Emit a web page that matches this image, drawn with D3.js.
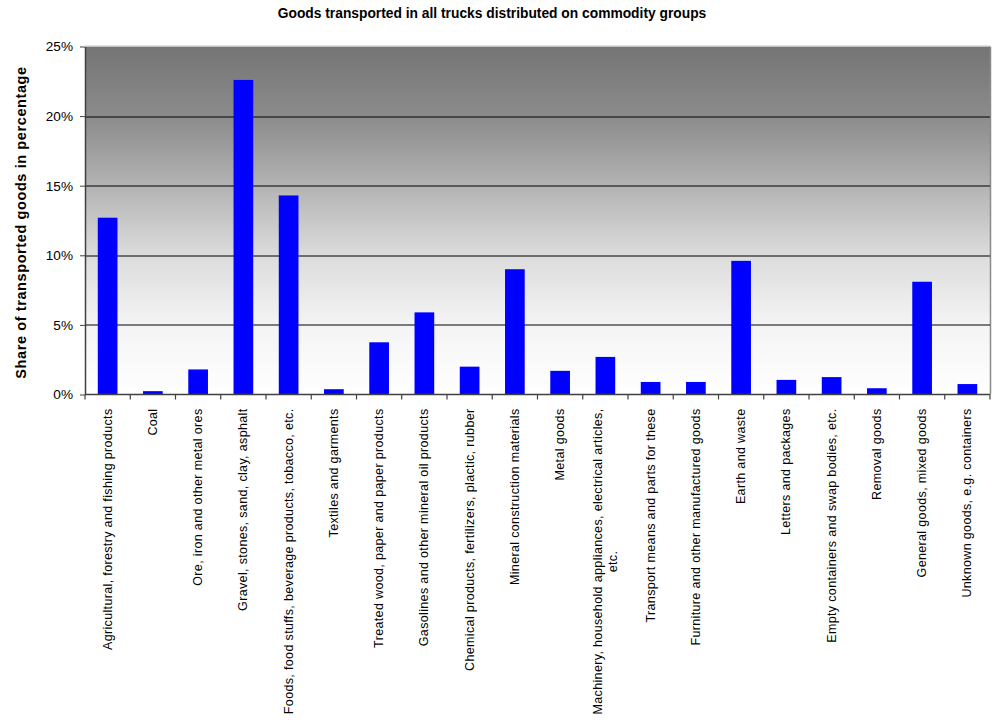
<!DOCTYPE html>
<html>
<head>
<meta charset="utf-8">
<script src="https://cdn.jsdelivr.net/npm/d3@7"></script>
<style>
  html, body { margin: 0; padding: 0; background: #ffffff; }
  svg { display: block; font-family: "Liberation Sans", Arial, sans-serif; }
</style>
</head>
<body>
<svg id="chart" width="997" height="722"></svg>
<script>
// Commodity groups (multi-line labels split with "\n")
const categories = [
  "Agricultural, forestry and fishing products",
  "Coal",
  "Ore, iron and other metal ores",
  "Gravel, stones, sand, clay, asphalt",
  "Foods, food stuffs, beverage products, tobacco, etc.",
  "Textiles and garments",
  "Treated wood, paper and paper products",
  "Gasolines and other mineral oil products",
  "Chemical products, fertilizers, plactic, rubber",
  "Mineral construction materials",
  "Metal goods",
  "Machinery, household appliances, electrical articles,\netc.",
  "Transport means and parts for these",
  "Furniture and other manufactured goods",
  "Earth and waste",
  "Letters and packages",
  "Empty containers and swap bodies, etc.",
  "Removal goods",
  "General goods, mixed goods",
  "Unknown goods, e.g. containers"
];

// Share of transported goods, in percent
const shares = [12.7, 0.24, 1.8, 22.6, 14.3, 0.38, 3.75, 5.9, 2.0, 9.0,
                1.7, 2.7, 0.9, 0.9, 9.6, 1.05, 1.25, 0.45, 8.1, 0.75];

const yTicks = [0, 5, 10, 15, 20, 25];

const titleText = "Goods transported in all trucks distributed on commodity groups";
const yTitleText = "Share of transported goods in percentage";

const svg = d3.select("#chart");
const margin = { left: 85, right: 7, top: 46.5, bottom: 327.5 };
const width = 997, height = 722;
const plotW = width - margin.left - margin.right;
const plotH = height - margin.top - margin.bottom;

const x = d3.scaleBand()
  .domain(categories)
  .range([0, plotW])
  .paddingInner(0.565)
  .paddingOuter(0.2825);

const y = d3.scaleLinear().domain([0, 25]).range([plotH, 0]);

// Background gradient of the plot area
const defs = svg.append("defs");
const grad = defs.append("linearGradient")
  .attr("id", "plotBg").attr("x1", 0).attr("y1", 0).attr("x2", 0).attr("y2", 1);
[[0, "#757575"], [0.2, "#8b8b8b"], [0.4, "#b3b3b3"], [0.6, "#dcdcdc"],
 [0.8, "#f4f4f4"], [1, "#ffffff"]].forEach(([o, c]) =>
  grad.append("stop").attr("offset", o).attr("stop-color", c));

const g = svg.append("g").attr("transform", `translate(${margin.left},${margin.top})`);

g.append("rect")
  .attr("width", plotW).attr("height", plotH)
  .attr("fill", "url(#plotBg)");

// Plot border: light top edge, grey right edge
g.append("line").attr("x1", 0).attr("x2", plotW).attr("y1", -0.5).attr("y2", -0.5)
  .attr("stroke", "#c4c4c4").attr("stroke-width", 1);
g.append("line").attr("x1", plotW + 0.5).attr("x2", plotW + 0.5).attr("y1", 0).attr("y2", plotH)
  .attr("stroke", "#8a8a8a").attr("stroke-width", 1.5);

// Horizontal gridlines
g.append("g")
  .selectAll("line")
  .data(yTicks.filter(t => t > 0 && t < 25))
  .join("line")
  .attr("x1", 0).attr("x2", plotW)
  .attr("y1", d => Math.round(y(d)) + 0.5).attr("y2", d => Math.round(y(d)) + 0.5)
  .attr("stroke", "#000").attr("stroke-width", 1);

// Bars
g.append("g")
  .selectAll("rect")
  .data(categories.map((c, i) => ({ c, v: shares[i] })))
  .join("rect")
  .attr("x", d => x(d.c))
  .attr("y", d => y(d.v))
  .attr("width", x.bandwidth())
  .attr("height", d => plotH - y(d.v))
  .attr("fill", "#0000ff");

// Y axis
const yAxis = g.append("g")
  .call(d3.axisLeft(y).tickValues(yTicks).tickFormat(d => d + "%").tickSize(5).tickSizeOuter(0));
yAxis.select(".domain").attr("stroke", "#404040").attr("stroke-width", 1.5);
yAxis.selectAll(".tick line").attr("stroke", "#404040");
yAxis.selectAll(".tick text")
  .attr("x", -12)
  .attr("font-size", 13.6)
  .attr("font-family", "'Liberation Sans', Arial, sans-serif")
  .attr("fill", "#000");

// X axis baseline and tick marks at band boundaries
const boundaries = d3.range(categories.length + 1).map(i => i * plotW / categories.length);
const xg = g.append("g").attr("transform", `translate(0,${plotH})`);
xg.append("line").attr("x1", 0).attr("x2", plotW).attr("y1", 0).attr("y2", 0)
  .attr("stroke", "#404040").attr("stroke-width", 1.5);
xg.selectAll("line.tk")
  .data(boundaries)
  .join("line").attr("class", "tk")
  .attr("x1", d => d).attr("x2", d => d).attr("y1", 0).attr("y2", 5)
  .attr("stroke", "#404040").attr("stroke-width", 1.2);

// Rotated category labels
const labelSize = 12.5, labelSpacing = 0.35;
const labels = xg.selectAll("g.lbl")
  .data(categories)
  .join("g").attr("class", "lbl")
  .attr("transform", d => `translate(${x(d) + x.bandwidth() / 2},14) rotate(-90)`);

labels.each(function (d) {
  const lines = d.split("\n");
  const sel = d3.select(this);
  const lh = 14.5;
  const first = sel.append("text")
    .attr("text-anchor", "end")
    .attr("font-size", labelSize)
    .attr("letter-spacing", labelSpacing)
    .attr("fill", "#000")
    .attr("x", 0)
    .attr("y", 4 - (lines.length - 1) * lh / 2)
    .text(lines[0]);
  if (lines.length > 1) {
    const len = first.node().getComputedTextLength();
    lines.slice(1).forEach((t, k) => {
      sel.append("text")
        .attr("text-anchor", "middle")
        .attr("font-size", labelSize)
        .attr("letter-spacing", labelSpacing)
        .attr("fill", "#000")
        .attr("x", -len / 2)
        .attr("y", 4 - (lines.length - 1) * lh / 2 + (k + 1) * lh)
        .text(t);
    });
  }
});

// Chart title
svg.append("text")
  .attr("x", 492).attr("y", 18)
  .attr("text-anchor", "middle")
  .attr("font-size", 13.8)
  .attr("font-weight", "bold")
  .attr("fill", "#000")
  .text(titleText);

// Y axis title
svg.append("text")
  .attr("transform", `translate(25.5,222.5) rotate(-90)`)
  .attr("text-anchor", "middle")
  .attr("font-size", 14.5)
  .attr("letter-spacing", 0.6)
  .attr("font-weight", "bold")
  .attr("fill", "#000")
  .text(yTitleText);
</script>
</body>
</html>
